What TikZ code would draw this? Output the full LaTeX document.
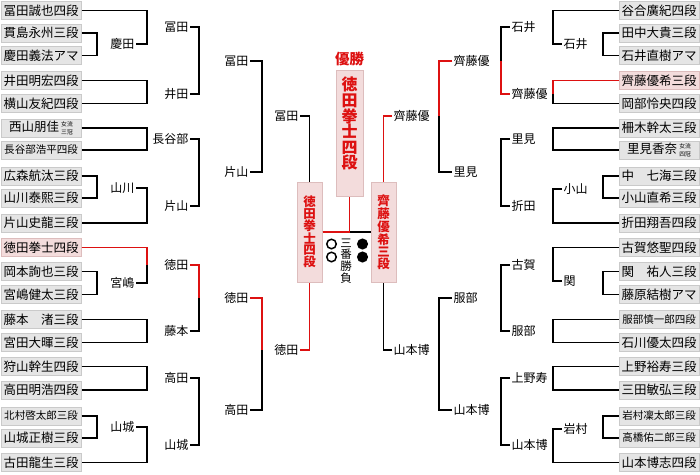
\documentclass[tikz,border=0pt]{standalone}
\usepackage{fontspec}
\setmainfont{Noto Sans CJK JP}
\usetikzlibrary{positioning}
\definecolor{cred}{HTML}{DD1111}
\definecolor{cpink}{HTML}{F3DCDC}
\definecolor{cpinkline}{HTML}{DDBDBD}
\definecolor{cbox}{HTML}{E5E5E5}
\definecolor{cboxline}{HTML}{CACACA}
\newcommand{\smalltitle}[2]{\raisebox{-3.5pt}{\fontsize{5.8}{8.4}\selectfont\shortstack{#1\\#2}}}
\tikzset{
  every picture/.style={line width=1.3pt},
  pl/.style={draw=cboxline, fill=cbox, line width=1pt, minimum width=80pt, minimum height=18pt, inner sep=0pt, font=\fontsize{12.5}{13}\selectfont},
  plwin/.style={pl, draw=cpinkline, fill=cpink},
  plsmall/.style={pl, font=\fontsize{10.5}{12}\selectfont},
  lbl/.style={inner sep=1pt, font=\fontsize{12}{13}\selectfont},
  lbll/.style={lbl, anchor=east},
  lblr/.style={lbl, anchor=west},
  win/.style={draw=cred},
  semibox/.style={draw=cpinkline, fill=cpink, line width=1pt, minimum width=25pt, minimum height=100pt, inner sep=0pt, align=center, text=cred, font=\fontsize{12.5}{11.8}\selectfont\bfseries},
  champbox/.style={draw=cpinkline, fill=cpink, line width=1pt, minimum width=27pt, minimum height=126pt, inner sep=0pt},
  champname/.style={inner sep=0pt, align=center, text=cred, font=\fontsize{16}{15.6}\selectfont\bfseries},
  title/.style={inner sep=0pt, text=cred, font=\fontsize{14.5}{15}\selectfont\bfseries},
  note/.style={inner sep=0pt, align=center, font=\fontsize{11.5}{11.8}\selectfont},
  wonmark/.style={circle, draw, line width=1.5pt, minimum size=9.5pt, inner sep=0pt},
  lostmark/.style={wonmark, fill},
}
\begin{document}
\begin{tikzpicture}[x=1pt, y=-1pt]
  \useasboundingbox (0,0) rectangle (700,474);

  % bracket columns
  \coordinate (vA) at (97,0);
  \coordinate (vB) at (147,0);
  \coordinate (vC) at (199,0);
  \coordinate (vD) at (262,0);
  \coordinate (wA) at (603,0);
  \coordinate (wB) at (553,0);
  \coordinate (wC) at (501,0);
  \coordinate (wD) at (439,0);

  % left block
  \node[pl] (L1) at (41,10.5) {冨田誠也四段};
  \node[pl] (L2) at (41,33) {貫島永州三段};
  \node[pl] (L3) at (41,55.5) {慶田義法アマ};
  \node[pl] (L4) at (41,80.5) {井田明宏四段};
  \node[pl] (L5) at (41,103.5) {横山友紀四段};
  \node[pl] (L6) at (41,128) {西山朋佳\,\smalltitle{女流}{三冠}};
  \node[plsmall] (L7) at (41,150) {長谷部浩平四段};
  \node[pl] (L8) at (41,176) {広森航汰三段};
  \node[pl] (L9) at (41,198) {山川泰熙三段};
  \node[pl] (L10) at (41,223) {片山史龍三段};
  \node[plwin] (L11) at (41,247.5) {徳田拳士四段};
  \node[pl] (L12) at (41,271.5) {岡本詢也三段};
  \node[pl] (L13) at (41,294.5) {宮嶋健太三段};
  \node[pl] (L14) at (41,319.5) {藤本　渚三段};
  \node[pl] (L15) at (41,342.5) {宮田大暉三段};
  \node[pl] (L16) at (41,366.5) {狩山幹生四段};
  \node[pl] (L17) at (41,390) {高田明浩四段};
  \node[plsmall] (L18) at (41,416) {北村啓太郎三段};
  \node[pl] (L19) at (41,438) {山城正樹三段};
  \node[pl] (L20) at (41,462.5) {古田龍生三段};

  \node[lbll] (keida) at (136,44) {慶田};
  \node[lbll] (yamakawa) at (136,188) {山川};
  \node[lbll] (miyajima) at (136,283) {宮嶋};
  \node[lbll] (yamashiro) at (136,427) {山城};

  \node[lbll] (tomita2) at (190,27) {冨田};
  \node[lbll] (ida) at (190,94) {井田};
  \node[lbll] (hasebe) at (190,139) {長谷部};
  \node[lbll] (katayama2) at (190,206) {片山};
  \node[lbll] (tokuda2) at (190,265) {徳田};
  \node[lbll] (fujimoto) at (190,331) {藤本};
  \node[lbll] (takada2) at (190,378) {高田};
  \node[lbll] (yamashiro2) at (190,445) {山城};

  \node[lbll] (tomita3) at (250,61) {冨田};
  \node[lbll] (katayama3) at (250,172) {片山};
  \node[lbll] (tokuda3) at (250,298) {徳田};
  \node[lbll] (takada3) at (250,410) {高田};

  \node[lbll] (tomita4) at (300,116) {冨田};
  \node[lbll] (tokuda4) at (300,350) {徳田};

  % right block
  \node[pl] (R1) at (659,10.5) {谷合廣紀四段};
  \node[pl] (R2) at (659,33) {田中大貴三段};
  \node[pl] (R3) at (659,55.5) {石井直樹アマ};
  \node[plwin] (R4) at (659,80.5) {齊藤優希三段};
  \node[pl] (R5) at (659,103.5) {岡部怜央四段};
  \node[pl] (R6) at (659,128) {柵木幹太三段};
  \node[pl] (R7) at (659,150) {里見香奈\,\smalltitle{女流}{四冠}};
  \node[pl] (R8) at (659,176) {中　七海三段};
  \node[pl] (R9) at (659,198) {小山直希三段};
  \node[pl] (R10) at (659,223) {折田翔吾四段};
  \node[pl] (R11) at (659,247.5) {古賀悠聖四段};
  \node[pl] (R12) at (659,271.5) {関　祐人三段};
  \node[pl] (R13) at (659,294.5) {藤原結樹アマ};
  \node[plsmall] (R14) at (659,319.5) {服部慎一郎四段};
  \node[pl] (R15) at (659,342.5) {石川優太四段};
  \node[pl] (R16) at (659,366.5) {上野裕寿三段};
  \node[pl] (R17) at (659,390) {三田敏弘三段};
  \node[plsmall] (R18) at (659,416) {岩村凜太郎三段};
  \node[plsmall] (R19) at (659,438) {高橋佑二郎三段};
  \node[pl] (R20) at (659,462.5) {山本博志四段};

  \node[lblr] (ishii) at (562,44) {石井};
  \node[lblr] (koyama) at (562,189) {小山};
  \node[lblr] (seki) at (562,281) {関};
  \node[lblr] (iwamura) at (562,429) {岩村};

  \node[lblr] (ishii2) at (510,27) {石井};
  \node[lblr] (saito2) at (510,94) {齊藤優};
  \node[lblr] (satomi2) at (510,139) {里見};
  \node[lblr] (orita) at (510,206) {折田};
  \node[lblr] (koga) at (510,265) {古賀};
  \node[lblr] (hattori2) at (510,331) {服部};
  \node[lblr] (ueno) at (510,378) {上野寿};
  \node[lblr] (yamamoto2) at (510,445) {山本博};

  \node[lblr] (saito3) at (452,61) {齊藤優};
  \node[lblr] (satomi3) at (452,172) {里見};
  \node[lblr] (hattori3) at (452,298) {服部};
  \node[lblr] (yamamoto3) at (452,410) {山本博};

  \node[lblr] (saito4) at (392,116) {齊藤優};
  \node[lblr] (yamamoto4) at (392,350) {山本博};

  % final
  \node[semibox] (semiL) at (309.5,232) {徳\\田\\拳\\士\\四\\段};
  \node[semibox] (semiR) at (383.5,232) {齊\\藤\\優\\希\\三\\段};
  \node[champbox] (champ) at (349.5,133) {};
  \node[champname, below=7pt of champ.north] (champtxt) {徳\\田\\拳\\士\\四\\段};
  \node[title, above=3pt of champ] (yusho) {優勝};
  \node[note] (sanban) at (346,261) {三\\番\\勝\\負};
  \node[wonmark] (won1) at (331.5,244) {};
  \node[wonmark] (won2) at (331.5,257) {};
  \node[lostmark] (lost1) at (362.5,244) {};
  \node[lostmark] (lost2) at (362.5,257) {};

  % left lines
  \draw (L2.east) -- (L2.east -| vA) |- (L3.east);
  \draw (L8.east) -- (L8.east -| vA) |- (L9.east);
  \draw (L12.east) -- (L12.east -| vA) |- (L13.east);
  \draw (L18.east) -- (L18.east -| vA) |- (L19.east);
  \draw (L1.east) -- (L1.east -| vB) |- (keida.east);
  \draw (L4.east) -- (L4.east -| vB) |- (L5.east);
  \draw (L6.east) -- (L6.east -| vB) |- (L7.east);
  \draw (yamakawa.east) -- (yamakawa.east -| vB) |- (L10.east);
  \draw (L11.east) -- (L11.east -| vB) |- (miyajima.east);
  \draw (L14.east) -- (L14.east -| vB) |- (L15.east);
  \draw (L16.east) -- (L16.east -| vB) |- (L17.east);
  \draw (yamashiro.east) -- (yamashiro.east -| vB) |- (L20.east);
  \draw (tomita2.east) -- (tomita2.east -| vC) |- (ida.east);
  \draw (hasebe.east) -- (hasebe.east -| vC) |- (katayama2.east);
  \draw (tokuda2.east) -- (tokuda2.east -| vC) |- (fujimoto.east);
  \draw (takada2.east) -- (takada2.east -| vC) |- (yamashiro2.east);
  \draw (tomita3.east) -- (tomita3.east -| vD) |- (katayama3.east);
  \draw (tokuda3.east) -- (tokuda3.east -| vD) |- (takada3.east);
  \draw (tomita4.east) -| (semiL.north);

  % right lines
  \draw (R2.west) -- (R2.west -| wA) |- (R3.west);
  \draw (R8.west) -- (R8.west -| wA) |- (R9.west);
  \draw (R12.west) -- (R12.west -| wA) |- (R13.west);
  \draw (R18.west) -- (R18.west -| wA) |- (R19.west);
  \draw (R1.west) -- (R1.west -| wB) |- (ishii.west);
  \draw (R4.west) -- (R4.west -| wB) |- (R5.west);
  \draw (R6.west) -- (R6.west -| wB) |- (R7.west);
  \draw (koyama.west) -- (koyama.west -| wB) |- (R10.west);
  \draw (R11.west) -- (R11.west -| wB) |- (seki.west);
  \draw (R14.west) -- (R14.west -| wB) |- (R15.west);
  \draw (R16.west) -- (R16.west -| wB) |- (R17.west);
  \draw (iwamura.west) -- (iwamura.west -| wB) |- (R20.west);
  \draw (ishii2.west) -- (ishii2.west -| wC) |- (saito2.west);
  \draw (satomi2.west) -- (satomi2.west -| wC) |- (orita.west);
  \draw (koga.west) -- (koga.west -| wC) |- (hattori2.west);
  \draw (ueno.west) -- (ueno.west -| wC) |- (yamamoto2.west);
  \draw (saito3.west) -- (saito3.west -| wD) |- (satomi3.west);
  \draw (hattori3.west) -- (hattori3.west -| wD) |- (yamamoto3.west);
  \draw (yamamoto4.west) -| (semiR.south);
  \draw (semiL.east) -- (semiR.west);

  % winners' paths
  \draw[win] (L11.east) -- (L11.east -| vB) -- (tokuda2.east -| vB);
  \draw[win] (tokuda2.east) -- (tokuda2.east -| vC) -- (tokuda3.east -| vC);
  \draw[win] (tokuda3.east) -- (tokuda3.east -| vD) -- (tokuda4.east -| vD);
  \draw[win] (tokuda4.east) -| (semiL.south);
  \draw[win] (R4.west) -- (R4.west -| wB) -- (saito2.west -| wB);
  \draw[win] (saito2.west) -- (saito2.west -| wC) -- (saito3.west -| wC);
  \draw[win] (saito3.west) -- (saito3.west -| wD) -- (saito4.west -| wD);
  \draw[win] (saito4.west) -| (semiR.north);
  \draw[win] (semiL.east) -- (semiL.east -| champ.south) -- (champ.south);
\end{tikzpicture}
\end{document}
